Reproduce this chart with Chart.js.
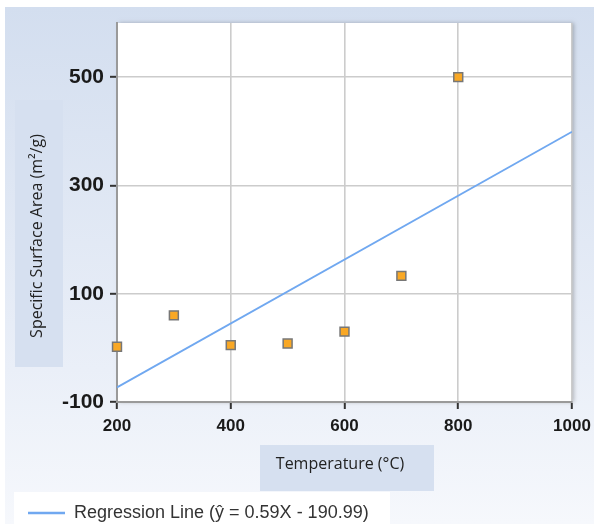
<!DOCTYPE html>
<html>
<head>
<meta charset="utf-8">
<script src="https://cdn.jsdelivr.net/npm/chart.js@4.4.0/dist/chart.umd.min.js"></script>
<style>
  html, body { margin: 0; padding: 0; background: #fff; }
  #wrap { width: 594px; height: 524px; }
</style>
</head>
<body>
<div id="wrap"><canvas id="chart" width="594" height="524"></canvas></div>
<script>
// data
const temps = [200, 300, 400, 500, 600, 700, 800];
const surfaceArea = [2, 60, 5, 8, 30, 133, 500];
// regression line y = 0.59x - 190.99, end points
const regTemps = [200, 1000];
const regValues = [-72.99, 399.01];
const xTicks = [200, 400, 600, 800, 1000];
const yTicks = [-100, 100, 300, 500];
const xTitle = 'Temperature (°C)';
const yTitle = 'Specific Surface Area (m²/g)';
const regLabel = 'Regression Line (ŷ = 0.59X - 190.99)';

const padLeft = 25;

const bgPlugin = {
  id: 'panelBg',
  beforeDraw(chart) {
    const ctx = chart.ctx, a = chart.chartArea;
    const w = chart.width, h = chart.height;
    ctx.save();
    ctx.fillStyle = '#fff';
    ctx.fillRect(0, 0, w, h);
    const g = ctx.createLinearGradient(0, 7, 0, h);
    g.addColorStop(0, '#d3deef');
    g.addColorStop(0.7, '#eaeff8');
    g.addColorStop(1, '#f6f8fc');
    ctx.fillStyle = g;
    ctx.fillRect(5, 7, w - 5, h - 7);
    // plot area with a little shadow on the right
    ctx.shadowColor = 'rgba(0,0,0,0.25)';
    ctx.shadowBlur = 4;
    ctx.shadowOffsetX = 2;
    ctx.fillStyle = '#fff';
    ctx.fillRect(a.left, a.top, a.right - a.left, a.bottom - a.top);
    ctx.restore();
    // title boxes + legend box
    ctx.save();
    ctx.fillStyle = '#d6e0f0';
    ctx.fillRect(15, 100, 48, 267);
    ctx.fillRect(260, 445, 174, 46);
    ctx.fillStyle = '#fff';
    ctx.fillRect(14, 492, 376, 32);
    ctx.restore();
  },
  afterDraw(chart) {
    const ctx = chart.ctx;
    ctx.save();
    ctx.fillStyle = '#222';
    ctx.font = '16px "Open Sans"';
    ctx.textAlign = 'center';
    ctx.textBaseline = 'middle';
    ctx.fillText(xTitle, 340, 464);
    ctx.translate(37, 236);
    ctx.rotate(-Math.PI / 2);
    ctx.fillText(yTitle, 0, 0);
    ctx.restore();
  }
};

const ctx = document.getElementById('chart').getContext('2d');
new Chart(ctx, {
  type: 'scatter',
  data: {
    datasets: [
      {
        label: 'Specific Surface Area',
        data: temps.map((t, i) => ({ x: t, y: surfaceArea[i] })),
        pointStyle: 'rect',
        pointRadius: 6.3,
        pointHoverRadius: 6.3,
        backgroundColor: '#f9a825',
        borderColor: '#777',
        borderWidth: 1.5,
        clip: false,
        order: 0
      },
      {
        label: regLabel,
        type: 'line',
        data: regTemps.map((t, i) => ({ x: t, y: regValues[i] })),
        borderColor: '#70a8f0',
        backgroundColor: '#70a8f0',
        borderWidth: 1.8,
        pointRadius: 0,
        fill: false,
        order: 1
      }
    ]
  },
  options: {
    responsive: false,
    animation: false,
    layout: { padding: { left: padLeft, right: 22, top: 23, bottom: -8 } },
    scales: {
      x: {
        type: 'linear',
        min: 200, max: 1000,
        afterBuildTicks: s => { s.ticks = xTicks.map(v => ({ value: v })); },
        afterFit: s => {
          s.height = 524 - 402 - s.chart.legend.height + 8;
          s.paddingRight = 0;
          s.paddingLeft = 0;
        },
        grid: { color: '#cccccc', lineWidth: 1.6, tickColor: '#333', tickLength: 7, tickWidth: 2 },
        border: { color: '#9a9a9a', width: 2 },
        ticks: {
          color: '#1a1a1a', padding: 7,
          callback: v => String(v),
          font: { family: 'Liberation Sans', size: 17, weight: 'bold' }
        }
      },
      y: {
        type: 'linear',
        min: -100, max: 600,
        afterBuildTicks: s => { s.ticks = yTicks.map(v => ({ value: v })); },
        afterFit: s => { s.width = 117 - padLeft; },
        grid: { color: '#cccccc', lineWidth: 1.6, tickColor: '#333', tickLength: 7, tickWidth: 2 },
        border: { color: '#9a9a9a', width: 2 },
        ticks: {
          color: '#1a1a1a', padding: 6,
          callback: v => String(v),
          font: { family: 'Liberation Sans', size: 21, weight: 'bold' }
        }
      }
    },
    plugins: {
      legend: {
        position: 'bottom',
        align: 'start',
        labels: {
          filter: item => item.datasetIndex === 1,
          generateLabels: chart => {
            const items = Chart.defaults.plugins.legend.labels.generateLabels(chart);
            items.forEach(it => { it.lineWidth = 2.6; });
            return items;
          },
          usePointStyle: true,
          pointStyle: 'line',
          pointStyleWidth: 37,
          padding: 3,
          color: '#333',
          font: { family: 'Liberation Sans', size: 18 }
        }
      },
      tooltip: { enabled: false }
    }
  },
  plugins: [bgPlugin]
});
</script>
</body>
</html>
